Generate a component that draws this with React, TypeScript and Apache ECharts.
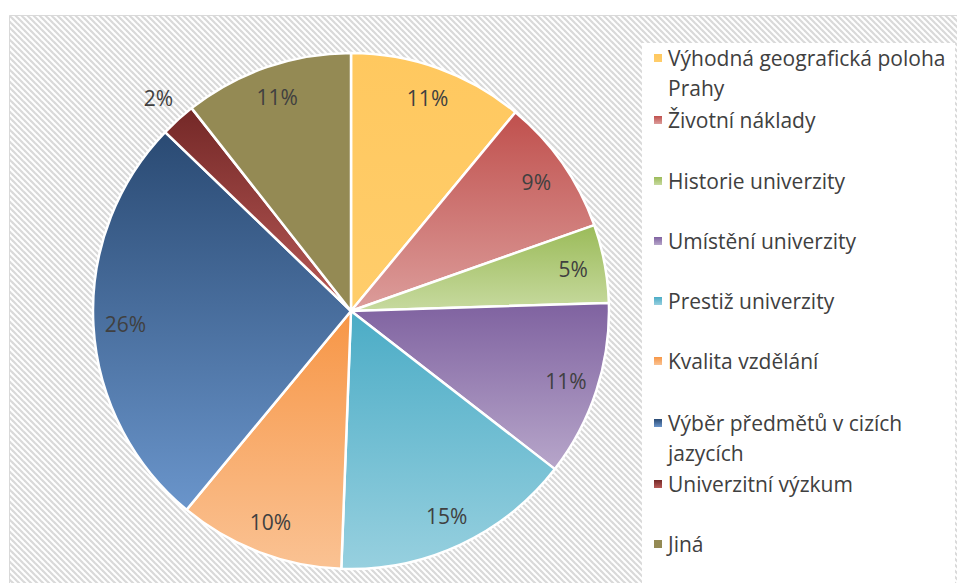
import React, { useEffect, useRef } from "react";
import * as echarts from "echarts";

const categories = [
  "Výhodná geografická poloha Prahy",
  "Životní náklady",
  "Historie univerzity",
  "Umístění univerzity",
  "Prestiž univerzity",
  "Kvalita vzdělání",
  "Výběr předmětů v cizích jazycích",
  "Univerzitní výzkum",
  "Jiná",
];
const legendTexts = [
  "Výhodná geografická poloha\nPrahy",
  "Životní náklady",
  "Historie univerzity",
  "Umístění univerzity",
  "Prestiž univerzity",
  "Kvalita vzdělání",
  "Výběr předmětů v cizích\njazycích",
  "Univerzitní výzkum",
  "Jiná",
];
const values = [11.0, 8.6, 4.9, 11.0, 15.1, 10.4, 26.2, 2.2, 10.6];
const colorsTop = ["#FFC85F", "#C0504D", "#9BBB59", "#7F62A0", "#4BACC6", "#F79646", "#2A4A73", "#742827", "#948A54"];
const colorsBottom = ["#FFCD6B", "#DC9D9B", "#C7DA9F", "#B7A6CA", "#97D0DF", "#FAC293", "#6A95CB", "#B85A57", "#948A54"];
const legendRowY = [58, 120, 181, 241, 301, 361, 423, 484, 544];
const outsideLabelIndex = 7;

const FONT = "Open Sans";
const TEXT_COLOR = "#404040";
const LINE_H = 30;

function makeHatch(): string {
  const s = 6;
  const c = document.createElement("canvas");
  c.width = s;
  c.height = s;
  const ctx = c.getContext("2d")!;
  ctx.fillStyle = "#ffffff";
  ctx.fillRect(0, 0, s, s);
  ctx.strokeStyle = "#d9d9d9";
  ctx.lineWidth = 2.2;
  for (let k = -1; k <= 1; k++) {
    ctx.beginPath();
    ctx.moveTo(-2, -2 + k * s);
    ctx.lineTo(s + 2, s + 2 + k * s);
    ctx.stroke();
  }
  return c.toDataURL();
}

export default function App() {
  const ref = useRef<HTMLDivElement>(null);
  useEffect(() => {
    if (!ref.current) return;
    const chart = echarts.init(ref.current, undefined, { renderer: "svg" });
    const hatch = makeHatch();

    const mainData = categories.map((name, i) => ({
      name,
      value: values[i],
      itemStyle: {
        color: new echarts.graphic.LinearGradient(0, 0, 0, 1, [
          { offset: 0, color: colorsTop[i] },
          { offset: 1, color: colorsBottom[i] },
        ]),
      },
    }));
    const transparentData = (showFn: (i: number) => boolean) =>
      categories.map((name, i) => ({
        name,
        value: values[i],
        itemStyle: { color: "rgba(0,0,0,0)", borderWidth: 0 },
        label: { show: showFn(i) },
      }));

    const labelStyle = {
      position: "inside",
      fontFamily: FONT,
      fontSize: 21,
      color: TEXT_COLOR,
      formatter: (p: any) => Math.round(p.percent) + "%",
    };

    const center = [351, 311];

    const legends = categories.map((name, i) => {
      const multi = legendTexts[i].includes("\n");
      return {
        orient: "vertical",
        left: 654,
        top: legendRowY[i] - (multi ? 1.5 * LINE_H : 0.5 * LINE_H),
        padding: 0,
        itemWidth: 8,
        itemHeight: 8,
        icon: "rect",
        itemStyle: { borderWidth: 0 },
        selectedMode: false,
        textStyle: {
          fontFamily: FONT,
          fontSize: 21,
          color: TEXT_COLOR,
          lineHeight: LINE_H,
          padding: [0, 0, 0, 1],
        },
        formatter: (n: string) => {
          const t = legendTexts[categories.indexOf(n)];
          return t.includes("\n") ? " \n" + t : t;
        },
        data: [name],
      };
    });

    chart.setOption({
      animation: false,
      graphic: [
        {
          type: "rect",
          silent: true,
          z: -10,
          shape: { x: 9.5, y: 15.5, width: 960, height: 580 },
          style: {
            fill: { image: hatch, repeat: "repeat", imageWidth: 6, imageHeight: 6 },
            stroke: "#d9d9d9",
            lineWidth: 1,
          },
        },
        {
          type: "rect",
          silent: true,
          z: -9,
          shape: { x: 642, y: 43, width: 313, height: 560 },
          style: { fill: "#ffffff" },
        },
      ],
      legend: legends,
      series: [
        {
          type: "pie",
          center,
          radius: [0, 258],
          startAngle: 90,
          clockwise: true,
          silent: true,
          label: { show: false },
          labelLine: { show: false },
          itemStyle: { borderColor: "#ffffff", borderWidth: 2.5 },
          emphasis: { disabled: true },
          data: mainData,
        },
        {
          type: "pie",
          center,
          radius: [194, 252],
          startAngle: 90,
          clockwise: true,
          silent: true,
          z: 3,
          label: labelStyle,
          labelLine: { show: false },
          emphasis: { disabled: true },
          data: transparentData((i) => i !== outsideLabelIndex),
        },
        {
          type: "pie",
          center,
          radius: [268, 300],
          startAngle: 90,
          clockwise: true,
          silent: true,
          z: 3,
          label: labelStyle,
          labelLine: { show: false },
          emphasis: { disabled: true },
          data: transparentData((i) => i === outsideLabelIndex),
        },
      ],
    });
    return () => chart.dispose();
  }, []);
  return (
    <div
      ref={ref}
      style={{ position: "fixed", left: 0, top: 0, width: 957, height: 583, background: "#ffffff" }}
    />
  );
}
